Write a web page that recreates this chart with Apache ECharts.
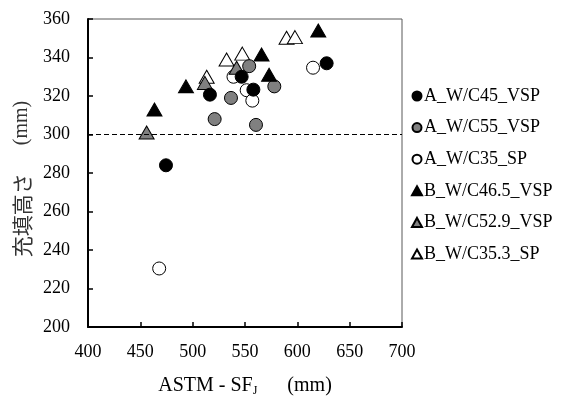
<!DOCTYPE html>
<html><head><meta charset="utf-8">
<script src="https://cdn.jsdelivr.net/npm/echarts@6/dist/echarts.min.js"></script>
<style>html,body{margin:0;padding:0;background:#fff}#c{width:573px;height:396px}</style>
</head><body><div id="c"></div>
<script>
const seriesNames = ['A_W/C45_VSP','A_W/C55_VSP','A_W/C35_SP','B_W/C46.5_VSP','B_W/C52.9_VSP','B_W/C35.3_SP'];
const A45 = [[474.5,284],[516.5,320.7],[546.8,330],[558,323.3],[628,337]];
const A55 = [[521,308],[536.6,319],[554,335.5],[560.5,305],[578,325]];
const A35 = [[468,230.4],[539,330],[551.6,323],[557,317.6],[615,334.7]];
const B46 = [[463.5,313],[493.6,325],[565.8,341.6],[573,331],[620,354]];
const B52 = [[456,301],[511.7,326.8],[542,334.7]];
const B35 = [[513.4,330],[532.4,339],[547.4,342],[589.7,350.3],[597.7,350.6]];
const xMin = 400, xMax = 700, xStep = 50;
const yMin = 200, yMax = 360, yStep = 20;
const refLine = 300;

const serif = 'Liberation Serif';
const chart = echarts.init(document.getElementById('c'), null, {renderer:'canvas'});
function mk(name, data, sym, fill, z){
  return {
    name, type:'scatter', data, symbol:sym,
    symbolSize: sym==='circle' ? 13 : [15,13],
    z,
    itemStyle:{color:fill, borderColor:'#000', borderWidth:1, opacity:1},
    emphasis:{disabled:true}
  };
}
const series = [
  mk(seriesNames[2], A35, 'circle', '#ffffff', 2),
  mk(seriesNames[5], B35, 'triangle', '#ffffff', 2),
  mk(seriesNames[1], A55, 'circle', '#808080', 3),
  mk(seriesNames[4], B52, 'triangle', '#808080', 4),
  mk(seriesNames[0], A45, 'circle', '#000000', 4),
  mk(seriesNames[3], B46, 'triangle', '#000000', 4)
];
series[0].markLine = {
  silent:true, symbol:'none', label:{show:false},
  lineStyle:{type:[5,3], color:'#000', width:1},
  data:[{yAxis:refLine}]
};
chart.setOption({
  animation:false,
  backgroundColor:'#fff',
  grid:{left:88, right:171, top:19, bottom:69, show:true, borderColor:'#595959', borderWidth:1,
        containLabel:false, outerBoundsMode:'none'},
  legend:{
    orient:'vertical', left:406, top:82, itemGap:13.6,
    itemWidth:10, itemHeight:9,
    data:seriesNames,
    textStyle:{fontFamily:serif, fontSize:18, color:'#000', padding:[0,0,0,-3]}
  },
  xAxis:{
    type:'value', min:xMin, max:xMax, interval:xStep,
    axisLine:{show:true, lineStyle:{color:'#000', width:2}},
    axisTick:{show:true, inside:true, length:5, lineStyle:{color:'#000', width:1.5}},
    axisLabel:{fontFamily:serif, fontSize:18, color:'#000', margin:16},
    splitLine:{show:false},
    name:'{a|ASTM - SF}{s|J}{m|(mm)}',
    nameLocation:'middle', nameGap:48,
    nameTextStyle:{rich:{
      a:{fontFamily:serif, fontSize:20, color:'#000'},
      s:{fontFamily:serif, fontSize:12, color:'#000', padding:[10,0,0,0]},
      m:{fontFamily:serif, fontSize:20, color:'#000', padding:[0,0,0,30]}
    }}
  },
  yAxis:{
    type:'value', min:yMin, max:yMax, interval:yStep,
    axisLine:{show:true, lineStyle:{color:'#000', width:2}},
    axisTick:{show:true, inside:true, length:5, lineStyle:{color:'#000', width:1.5}},
    axisLabel:{fontFamily:serif, fontSize:18, color:'#000', margin:18},
    splitLine:{show:false},
    name:'{j|充填高さ}{m|(mm)}',
    nameLocation:'middle', nameGap:55, nameRotate:90,
    nameTextStyle:{rich:{
      j:{fontFamily:'Noto Sans CJK JP', fontSize:21, color:'#333'},
      m:{fontFamily:serif, fontSize:20, color:'#333', padding:[0,12,0,28]}
    }}
  },
  series
});
</script></body></html>
